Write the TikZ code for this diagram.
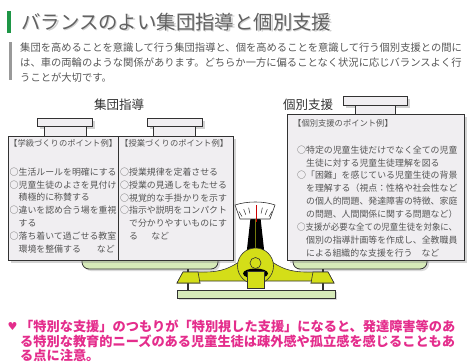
\documentclass[tikz,border=0pt]{standalone}
\usepackage{fontspec}
\usepackage{graphicx}
\setmainfont{Noto Sans CJK JP}
\newfontfamily\symbolfont{DejaVu Sans}
\usetikzlibrary{shadows}
\definecolor{bgreen}{RGB}{30,150,70}
\definecolor{bgray}{RGB}{85,85,85}
\definecolor{bline}{RGB}{50,50,50}
\definecolor{bpaper}{RGB}{240,238,241}
\definecolor{bplate}{RGB}{214,234,184}
\definecolor{bscale}{RGB}{212,222,24}
\definecolor{bpink}{RGB}{228,45,140}

\begin{document}
\begin{tikzpicture}[x=1pt,y=-1pt,
    card/.style={draw=bline,line width=1pt,fill=bpaper,drop shadow={shadow xshift=2.5pt,shadow yshift=-2.5pt,opacity=.35}},
    capbox/.style={draw=bline,line width=1pt,fill=bpaper},
    dish/.style={draw=bline,line width=.8pt,fill=bplate,drop shadow={shadow xshift=2pt,shadow yshift=-2pt,opacity=.3}},
    metal/.style={draw=bline,line width=.6pt,fill=bscale},
    pointhead/.style={font=\fontsize{8.3}{10}\selectfont,text=bgray,inner sep=0pt,anchor=west},
    pointlist/.style={font=\fontsize{8.9}{12.9}\selectfont,text=bgray,inner sep=0pt,anchor=north west,align=left}]
  \useasboundingbox (0,0) rectangle (468,363);

  % heading and lead text
  \fill[bgreen] (7,11) rectangle (11,33);
  \node[anchor=west,inner sep=0pt,text=black!18,font=\fontsize{19.4}{22}\selectfont] at (22.5,23.5) {バランスのよい集団指導と個別支援};
  \node[anchor=west,inner sep=0pt,text=black!62,font=\fontsize{19.4}{22}\selectfont] (title) at (21,22) {バランスのよい集団指導と個別支援};
  \fill[black!40] (9,42) rectangle (11.5,80);
  \node[anchor=north west,inner sep=0pt,align=left,text=bgray,font=\fontsize{10.3}{14.6}\selectfont] (lead) at (20,43) {集団を高めることを意識して行う集団指導と、個を高めることを意識して行う個別支援との間に\\は、車の両輪のような関係があります。どちらか一方に偏ることなく状況に応じバランスよく行\\うことが大切です。};

  \node[font=\fontsize{12.5}{14}\selectfont,text=bline] (grouphead) at (119,105) {集団指導};
  \node[font=\fontsize{12.5}{14}\selectfont,text=bline] (indivhead) at (308,105) {個別支援};

  % scale: dishes, posts, base and beam
  \draw[dish,rounded corners=7pt] (82,250) -- (82,269) -- (218,269) -- (218,250);
  \draw[dish,rounded corners=7pt] (293,250) -- (293,269) -- (427,269) -- (427,250);
  \draw[bline,line width=1.5pt] (188,269) -- (188,290);
  \draw[bline,line width=1.5pt] (323,269) -- (323,290);
  \draw[dish] (177,290) rectangle (335,298);
  \draw[metal] (177,283) -- (183,272) -- (204,272) .. controls (222,272) and (230,268) .. (242,260) -- (250,281) -- (198,281) -- (200,283) -- cycle;
  \draw[metal] (334,283) -- (328,272) -- (307,272) .. controls (289,272) and (281,268) .. (269,260) -- (261,281) -- (313,281) -- (311,283) -- cycle;
  \draw[metal] (177,283) -- (183,272) -- (198,272) -- (200,283) -- cycle;
  \draw[metal] (334,283) -- (328,272) -- (313,272) -- (311,283) -- cycle;

  % pointer and dial
  \fill[black] (250.5,218) -- (260.5,218) -- (265,258) -- (246,258) -- cycle;
  \draw[bscale!55!black,line width=.6pt] (255.5,219) -- (255.5,255);
  \draw[metal] (255.5,266) circle[radius=18pt];
  \fill[black] (255.5,273.5) ellipse[x radius=12.5pt,y radius=5pt];
  \draw[metal] (247,271) rectangle (264,288);
  \draw[metal] (255.5,263) circle[radius=5.5pt];
  \draw[draw=bline,fill=white,line width=.6pt] (240,219) -- (235,205) .. controls (247,201) and (264,201) .. (275,205) -- (270,219) -- cycle;
  \foreach \a in {-30,-21,-12,12,21,30}
    \draw[bline,line width=.5pt,rotate around={\a:(255.5,240)}] (255.5,207) -- (255.5,213);
  \draw[red!80!black,line width=.8pt] (256,205) -- (256,222);

  % left pan: two cards
  \draw[card] (37,119) rectangle (92,127);
  \draw[capbox] (44,127) rectangle (86,137);
  \draw[card] (147,119) rectangle (202,127);
  \draw[capbox] (153,127) rectangle (195,137);
  \draw[card] (8,137) rectangle (233,260);
  \draw[bline,line width=1pt] (118,137) -- (118,260);

  \node[pointhead] (classhead) at (9,143) {【学級づくりのポイント例】};
  \node[pointlist] (classlist) at (9.5,167.5) {○生活ルールを明確にする\\○児童生徒のよさを見付け\\\hspace*{1em}積極的に称賛する\\○違いを認め合う場を重視\\\hspace*{1em}する\\○落ち着いて過ごせる教室\\\hspace*{1em}環境を整備する\hspace{1.8em}など};
  \node[pointhead] (lessonhead) at (120,143) {【授業づくりのポイント例】};
  \node[pointlist] (lessonlist) at (120,167.5) {○授業規律を定着させる\\○授業の見通しをもたせる\\○視覚的な手掛かりを示す\\○指示や説明をコンパクト\\\hspace*{1em}で分かりやすいものにす\\\hspace*{1em}る\hspace{1.5em}など};

  % right pan: one card
  \draw[card] (343,97) rectangle (407,106);
  \draw[capbox] (355,106) rectangle (395,115);
  \draw[card] (287,115) rectangle (464,260);
  \node[pointhead] (indivpointhead) at (293,123) {【個別支援のポイント例】};
  \node[pointlist] (indivlist) at (297,145.5) {○特定の児童生徒だけでなく全ての児童\\\hspace*{1em}生徒に対する児童生徒理解を図る\\○「困難」を感じている児童生徒の背景\\\hspace*{1em}を理解する（視点：性格や社会性など\\\hspace*{1em}の個人的問題、発達障害の特徴、家庭\\\hspace*{1em}の問題、人間関係に関する問題など）\\\scalebox{.947}[1]{○支援が必要な全ての児童生徒を対象に、}\\\hspace*{1em}個別の指導計画等を作成し、全教職員\\\hspace*{1em}による組織的な支援を行う\hspace{1em}など};

  % note
  \node[text=bpink,inner sep=0pt,font=\symbolfont\fontsize{11}{12}\selectfont] (heart) at (12.5,326) {♥};
  \node[anchor=north west,inner sep=0pt,align=left,text=bpink,font=\bfseries\fontsize{13.2}{14.8}\selectfont] (note) at (20,319.5) {「特別な支援」のつもりが「特別視した支援」になると、発達障害等のあ\\る特別な教育的ニーズのある児童生徒は疎外感や孤立感を感じることもあ\\る点に注意。};
\end{tikzpicture}
\end{document}
